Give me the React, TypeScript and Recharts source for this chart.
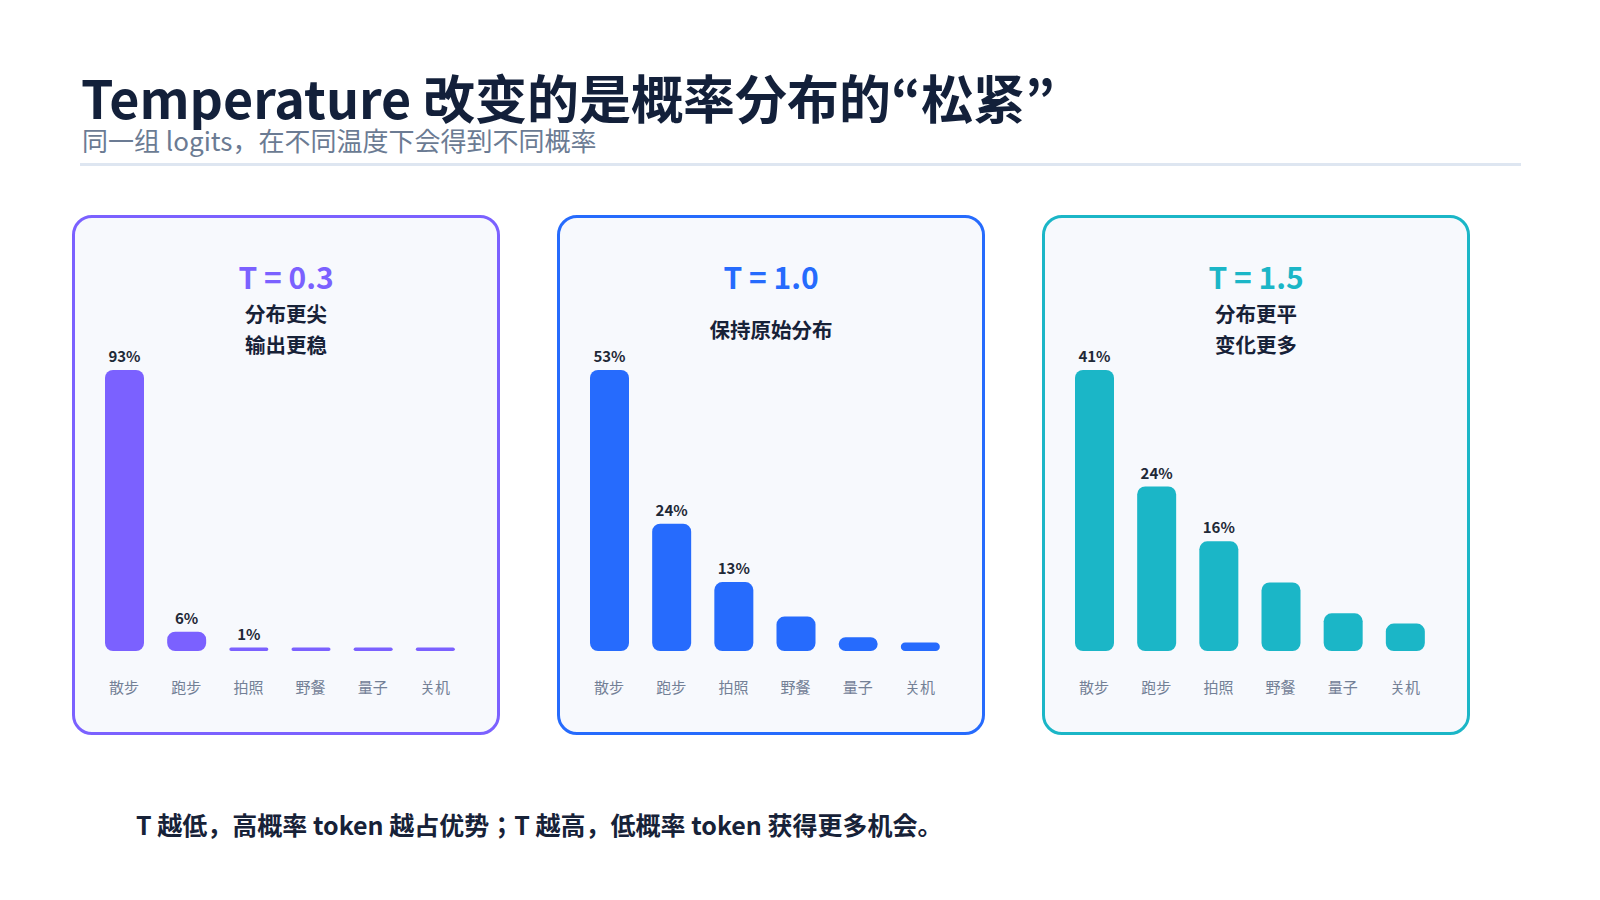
import React from "react";
import { BarChart, Bar, XAxis, YAxis, LabelList } from "recharts";

const categories = ["散步", "跑步", "拍照", "野餐", "量子", "关机"];
const valuesT03 = [93, 6.4, 1, 0.2, 0.1, 0.1];
const valuesT10 = [53, 24, 13, 6.5, 2.6, 1.6];
const valuesT15 = [41, 24, 16, 10, 5.5, 4];
const labelsT03 = ["93%", "6%", "1%", "", "", ""];
const labelsT10 = ["53%", "24%", "13%", "", "", ""];
const labelsT15 = ["41%", "24%", "16%", "", "", ""];
const panelTitles = ["T = 0.3", "T = 1.0", "T = 1.5"];
const panelNotes = [["分布更尖", "输出更稳"], ["保持原始分布"], ["分布更平", "变化更多"]];
const panelColors = ["#7B61FF", "#266BFD", "#1BB6C7"];

const FONT = '"Noto Sans CJK JP", "Noto Sans CJK SC", sans-serif';
const DARK = "#172238";

const panelValues = [valuesT03, valuesT10, valuesT15];
const panelLabels = [labelsT03, labelsT10, labelsT15];

const PANEL_LEFTS = [72, 557, 1042];
const PANEL_TOP = 215;
const PANEL_W = 428;
const PANEL_H = 520;

function Panel({ idx }: { idx: number }) {
  const left = PANEL_LEFTS[idx];
  const color = panelColors[idx];
  const vals = panelValues[idx];
  const labs = panelLabels[idx];
  const data = categories.map((c, i) => ({ name: c, value: vals[i], label: labs[i] }));
  const max = Math.max(...vals);
  const cx = left + PANEL_W / 2;
  const notes = panelNotes[idx];
  return (
    <>
      <div
        style={{
          position: "absolute",
          left,
          top: PANEL_TOP,
          width: PANEL_W,
          height: PANEL_H,
          boxSizing: "border-box",
          border: `3px solid ${color}`,
          borderRadius: 20,
          background: "#F7F9FD",
        }}
      />
      <div
        style={{
          position: "absolute",
          left: cx,
          top: 276,
          transform: "translate(-50%, -50%)",
          fontFamily: FONT,
          fontWeight: 700,
          fontSize: 30,
          lineHeight: 1,
          color,
          whiteSpace: "nowrap",
        }}
      >
        {panelTitles[idx]}
      </div>
      <div
        style={{
          position: "absolute",
          left: cx,
          top: 328.5,
          transform: "translate(-50%, -50%)",
          fontFamily: FONT,
          fontWeight: 700,
          fontSize: 20.5,
          lineHeight: "31px",
          color: DARK,
          textAlign: "center",
          whiteSpace: "nowrap",
        }}
      >
        {notes.map((n, i) => (
          <div key={i}>{n}</div>
        ))}
      </div>
      <div style={{ position: "absolute", left: left + 20.5, top: 330 }}>
        <BarChart
          width={373}
          height={371}
          data={data}
          margin={{ top: 40, right: 0, bottom: 0, left: 0 }}
          barCategoryGap={0}
        >
          <YAxis hide domain={[0, max]} />
          <XAxis
            dataKey="name"
            axisLine={false}
            tickLine={false}
            height={50}
            tickMargin={25}
            interval={0}
            tick={{ fill: "#738096", fontSize: 15, fontFamily: FONT }}
          />
          <Bar
            dataKey="value"
            fill={color}
            barSize={39}
            radius={[8, 8, 8, 8]}
            minPointSize={3.5}
            isAnimationActive={false}
          >
            <LabelList
              dataKey="label"
              position="top"
              offset={8}
              fill="#1F2937"
              fontSize={15}
              fontWeight={700}
              fontFamily={FONT}
            />
          </Bar>
        </BarChart>
      </div>
    </>
  );
}

export default function App() {
  return (
    <div
      style={{
        position: "absolute",
        left: 0,
        top: 0,
        width: 1600,
        height: 900,
        background: "#FFFFFF",
        fontFamily: FONT,
        overflow: "hidden",
      }}
    >
      <div
        style={{
          position: "absolute",
          left: 81,
          top: 97,
          transform: "translateY(-50%)",
          fontWeight: 700,
          fontSize: 52,
          lineHeight: 1,
          color: "#13203A",
          whiteSpace: "nowrap",
        }}
      >
        Temperature 改变的是概率分布的“松紧”
      </div>
      <div
        style={{
          position: "absolute",
          left: 82,
          top: 140,
          transform: "translateY(-50%)",
          fontWeight: 400,
          fontSize: 26,
          lineHeight: 1,
          color: "#6B7B93",
          whiteSpace: "nowrap",
        }}
      >
        同一组 logits，在不同温度下会得到不同概率
      </div>
      <div
        style={{
          position: "absolute",
          left: 80,
          top: 163,
          width: 1441,
          height: 3,
          background: "#DEE6F1",
        }}
      />
      {[0, 1, 2].map((i) => (
        <Panel key={i} idx={i} />
      ))}
      <div
        style={{
          position: "absolute",
          left: 136,
          top: 824,
          transform: "translateY(-50%)",
          fontWeight: 700,
          fontSize: 25,
          lineHeight: 1,
          color: DARK,
          whiteSpace: "nowrap",
        }}
      >
        T 越低，高概率 token 越占优势；T 越高，低概率 token 获得更多机会。
      </div>
    </div>
  );
}
